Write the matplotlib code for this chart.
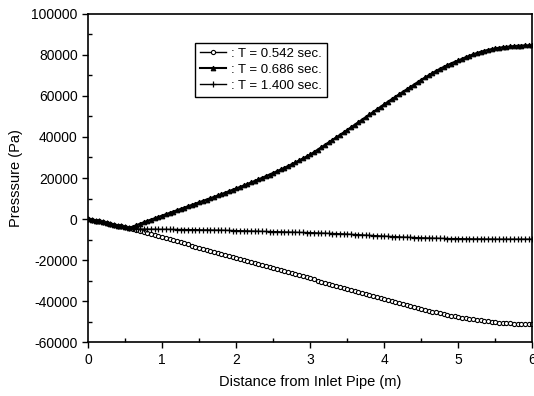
import numpy as np
import matplotlib.pyplot as plt
from matplotlib.ticker import MultipleLocator

plt.rcParams['font.family'] = ['Liberation Sans', 'DejaVu Sans']
plt.rcParams['axes.unicode_minus'] = False

# distance along pipe, sampled every 0.05 m
distance = np.round(np.arange(121) * 0.05, 2)

p_0542 = [0, -400, -800, -1200, -1600, -2000, -2400, -2800, -3200, -3600, -4000, -4400,
          -4900, -5400, -5900, -6400, -6900, -7400, -7900, -8400, -8900, -9400, -9900, -10400,
          -10900, -11400, -11900, -12400, -12900, -13400, -13900, -14400, -14900, -15400, -15900,
          -16400, -16900, -17400, -17900, -18400, -18900, -19400, -19900, -20400, -20900, -21400,
          -21900, -22400, -22900, -23400, -23900, -24400, -24900, -25400, -25900, -26400, -26900,
          -27400, -27900, -28400, -28900,
          -29450, -30000, -30550, -31100, -31600, -32100, -32600, -33100, -33600,
          -34100, -34600, -35100, -35600, -36100, -36600, -37100, -37600, -38100, -38600, -39100,
          -39600, -40100, -40550, -41000, -41450, -41900, -42350,
          -42800, -43300, -43750, -44200, -44650, -45100, -45500, -45900, -46300, -46700, -47050,
          -47400, -47750,
          -48050, -48350, -48650, -48950, -49200, -49450, -49700, -49900, -50100, -50300,
          -50450, -50600, -50750, -50850, -50950, -51050, -51100, -51150, -51200, -51200]

p_0686 = [0, -400, -800, -1200, -1600, -2000, -2400, -2800, -3200, -3600, -4000, -4400,
          -3700, -3000, -2300, -1600, -900, -250, 400, 1050, 1700, 2350, 3000, 3650, 4300, 4950,
          5600, 6250, 6900, 7550, 8200, 8850, 9500, 10150, 10800, 11500, 12150, 12850, 13550,
          14250, 14950, 15650, 16350, 17100, 17850, 18600, 19350, 20100, 20900, 21700, 22500,
          23300, 24150, 25000, 25850, 26750, 27650, 28600, 29550, 30500, 31500,
          32600, 33800, 35000, 36200, 37400, 38600, 39800, 41000, 42200,
          43450, 44700, 45950, 47200, 48450, 49700, 50950, 52200, 53450, 54700, 55950, 57200,
          58400, 59600, 60800, 62000, 63150, 64300,
          65500, 66700, 67900, 69000, 70100, 71200, 72200, 73200, 74100, 75000, 75800, 76600, 77300,
          78100, 78900, 79600, 80300, 80900, 81500, 82000, 82450, 82850, 83200,
          83500, 83750, 83950, 84150, 84300, 84450, 84550, 84650, 84700, 84750]

p_1400 = [0, -400, -800, -1200, -1600, -2000, -2400, -2800, -3200, -3600, -4000, -4400,
          -4600, -4750, -4850, -4900, -4900, -4950, -4950, -5000, -5000, -5000, -5050, -5050,
          -5100, -5100, -5150, -5150, -5200, -5200, -5250, -5300, -5300, -5350, -5400, -5400,
          -5450, -5500, -5550, -5600, -5650, -5700, -5750, -5800, -5850, -5900, -5950, -6000,
          -6050, -6100, -6150, -6200, -6250, -6300, -6350, -6400, -6450, -6500, -6550, -6600, -6650,
          -6700, -6800, -6850, -6900, -7000, -7050, -7100, -7200, -7250,
          -7350, -7450, -7550, -7650, -7750, -7850, -7950, -8050, -8150, -8250, -8350, -8450,
          -8550, -8600, -8700, -8800, -8850, -8950,
          -9000, -9100, -9150, -9200, -9250, -9300, -9350, -9400, -9450, -9500, -9550, -9550, -9600,
          -9600, -9650, -9650, -9700, -9700, -9700, -9750, -9750, -9750, -9800,
          -9800, -9800, -9800, -9800, -9800, -9800, -9800, -9800, -9800, -9800]

labels = [': T = 0.542 sec.', ': T = 0.686 sec.', ': T = 1.400 sec.']

fig = plt.figure(figsize=(5.34, 3.96), dpi=100)
ax = fig.add_axes([0.165, 0.136, 0.832, 0.829])

ax.plot(distance, p_0542, color='black', lw=1, marker='o', ms=3, mfc='white',
        mew=0.8, label=labels[0])
ax.plot(distance, p_0686, color='black', lw=1.5, marker='^', ms=3.3, mfc='black',
        mew=0.8, label=labels[1])
ax.plot(distance, p_1400, color='black', lw=1, marker='+', ms=5, mew=0.9,
        label=labels[2])

ax.set_xlim(0, 6)
ax.set_ylim(-60000, 100000)
ax.xaxis.set_major_locator(MultipleLocator(1))
ax.xaxis.set_minor_locator(MultipleLocator(0.5))
ax.yaxis.set_major_locator(MultipleLocator(20000))
ax.yaxis.set_minor_locator(MultipleLocator(10000))
ax.tick_params(which='major', direction='out', length=4, width=1, labelsize=10,
               colors='black')
ax.tick_params(which='minor', direction='in', length=3, width=1)
for s in ax.spines.values():
    s.set_linewidth(1.2)

ax.set_xlabel('Distance from Inlet Pipe (m)', fontsize=10.5, labelpad=6)
ax.set_ylabel('Presssure (Pa)', fontsize=10.5, labelpad=6)

leg = ax.legend(loc='upper left', bbox_to_anchor=(0.241, 0.912), borderaxespad=0,
                fontsize=9.5, fancybox=False, edgecolor='black', framealpha=1,
                handlelength=2.0, handletextpad=0.4, borderpad=0.35, labelspacing=0.3)
leg.get_frame().set_linewidth(1)

fig.savefig('out.png', dpi=100)
